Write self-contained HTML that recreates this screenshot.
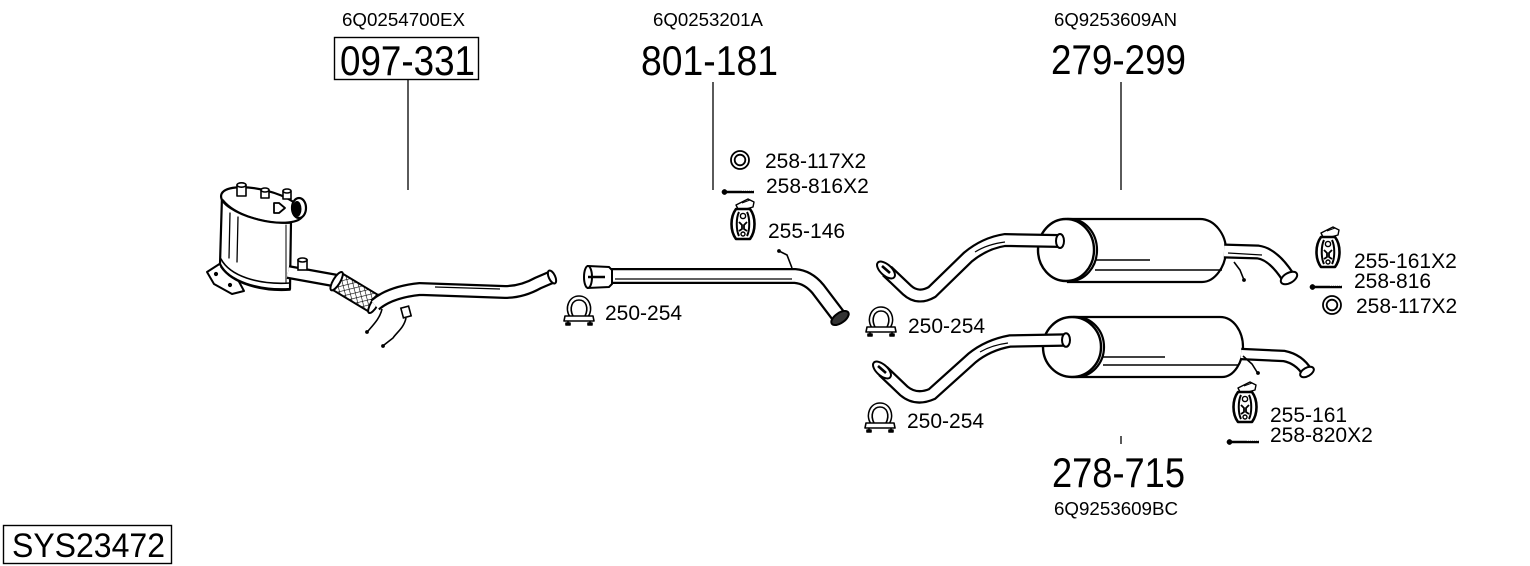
<!DOCTYPE html>
<html><head><meta charset="utf-8"><style>
html,body{margin:0;padding:0;background:#fff;}
svg{display:block;}
text{font-family:"Liberation Sans",Arial,sans-serif;fill:#000;}
</style></head><body>
<svg width="1530" height="566" viewBox="0 0 1530 566" xmlns="http://www.w3.org/2000/svg">
<defs>
  <pattern id="hatch" width="5" height="5" patternUnits="userSpaceOnUse" patternTransform="rotate(45)">
    <rect width="5" height="5" fill="#fff"/>
    <line x1="0" y1="0" x2="0" y2="5" stroke="#000" stroke-width="1.2"/>
    <line x1="0" y1="0" x2="5" y2="0" stroke="#000" stroke-width="1.2"/>
  </pattern>
  <g id="clamp" stroke="#000" fill="none" stroke-width="1.6" stroke-linejoin="round">
    <path d="M7 23 C1 14 6 2 16 2 C26 2 31 14 25 23"/>
    <path d="M10 22 C6 14 9 6 16 6 C23 6 26 14 22 22"/>
    <path d="M2 22 L30 22 L31 27 L1 27 Z" fill="#fff"/>
    <line x1="5" y1="27" x2="5" y2="31"/>
    <line x1="27" y1="27" x2="27" y2="31"/>
    <rect x="3" y="29" width="4" height="2" fill="#000"/>
    <rect x="25" y="29" width="4" height="2" fill="#000"/>
  </g>
  <g id="hanger" stroke="#000" stroke-linejoin="round" fill="none">
    <path d="M6 7 L18 1 L24 4 L23 9 L9 13 Z" fill="#fff" stroke-width="1.4"/>
    <line x1="12" y1="5" x2="20" y2="2" stroke-width="1"/>
    <path d="M6 11 C0 19 0 33 6 41 L20 41 C26 33 26 19 20 11 Z" fill="#fff" stroke-width="2.6"/>
    <path d="M9 14 C6 20 6 32 9 38" stroke-width="2"/>
    <path d="M17 14 C20 20 20 32 17 38" stroke-width="2"/>
    <path d="M9 24 L12 27 L12 31 L9 33" stroke-width="1.8"/>
    <path d="M17 24 L14 27 L14 31 L17 33" stroke-width="1.8"/>
    <circle cx="13" cy="18" r="2.6" stroke-width="1.4"/>
    <circle cx="13" cy="36" r="2" stroke-width="1.4"/>
  </g>
  <g id="bolt" stroke="#000">
    <line x1="3" y1="0" x2="32" y2="0" stroke-width="2.6"/>
    <circle cx="2.5" cy="0" r="2.6" fill="#000" stroke-width="0.5"/>
    <line x1="20" y1="-1.5" x2="32" y2="-1.5" stroke-width="0.8" stroke="#fff" stroke-dasharray="1 1"/>
  </g>
  <g id="ring" fill="none" stroke="#000" stroke-width="1.8">
    <circle cx="0" cy="0" r="9"/>
    <circle cx="0" cy="0" r="5.3"/>
  </g>
</defs>

<!-- ===== headers ===== -->
<text x="403.5" y="26" font-size="18.5" text-anchor="middle" textLength="123" lengthAdjust="spacingAndGlyphs">6Q0254700EX</text>
<text x="708" y="26" font-size="18.5" text-anchor="middle" textLength="110" lengthAdjust="spacingAndGlyphs">6Q0253201A</text>
<text x="1115.5" y="26" font-size="18.5" text-anchor="middle" textLength="123" lengthAdjust="spacingAndGlyphs">6Q9253609AN</text>
<text x="1116" y="515" font-size="18.5" text-anchor="middle" textLength="124" lengthAdjust="spacingAndGlyphs">6Q9253609BC</text>

<rect x="334.5" y="37.5" width="144" height="42" fill="none" stroke="#000" stroke-width="1.4"/>
<text x="340" y="75" font-size="42" textLength="135" lengthAdjust="spacingAndGlyphs">097-331</text>
<text x="641" y="75" font-size="42" textLength="137" lengthAdjust="spacingAndGlyphs">801-181</text>
<text x="1051" y="74" font-size="42" textLength="135" lengthAdjust="spacingAndGlyphs">279-299</text>
<text x="1052" y="487" font-size="42" textLength="133" lengthAdjust="spacingAndGlyphs">278-715</text>

<rect x="3.5" y="525.5" width="168" height="38" fill="none" stroke="#000" stroke-width="1.4"/>
<text x="12" y="557" font-size="34" textLength="153" lengthAdjust="spacingAndGlyphs">SYS23472</text>

<!-- leader lines -->
<g stroke="#000" stroke-width="1.3">
  <line x1="408" y1="80" x2="408" y2="190"/>
  <line x1="713" y1="82" x2="713" y2="190"/>
  <line x1="1121" y1="82" x2="1121" y2="190"/>
  <line x1="1121" y1="436" x2="1121" y2="444"/>
</g>

<!-- ===== DPF assembly ===== -->
<g stroke="#000" stroke-linejoin="round" stroke-linecap="round">
  <path d="M207 272 L221 263 L236 276 L244 291 L232 294 L214 284 Z" fill="#fff" stroke-width="2"/>
  <circle cx="216" cy="274" r="1.6" fill="#000"/>
  <circle cx="230" cy="285" r="1.6" fill="#000"/>
  <path d="M222 196 L220 264 C228 281 258 291 290 289 L291 221 Z" fill="#fff" stroke-width="2.2"/>
  <path d="M221 259 C230 276 258 285 290 283" fill="none" stroke-width="1.6"/>
  <path d="M221 267 C232 283 260 292 290 290" fill="none" stroke-width="1.6"/>
  <line x1="230" y1="213" x2="229" y2="258" stroke-width="1.3"/>
  <line x1="238" y1="217" x2="237" y2="262" stroke-width="1.3"/>
  <line x1="286" y1="225" x2="286" y2="283" stroke-width="1"/>
  <ellipse cx="262" cy="205" rx="42" ry="15" transform="rotate(14 262 205)" fill="#fff" stroke-width="2.2"/>
  <path d="M223 200 C235 215 265 224 291 223" fill="none" stroke-width="1.6"/>
  <rect x="237" y="185" width="9" height="11" fill="#fff" stroke-width="1.6"/>
  <ellipse cx="241.5" cy="185" rx="4.5" ry="2.2" fill="#fff" stroke-width="1.6"/>
  <rect x="261" y="190" width="8" height="8" fill="#fff" stroke-width="1.6"/>
  <ellipse cx="265" cy="190" rx="4" ry="2" fill="#fff" stroke-width="1.6"/>
  <rect x="283" y="191" width="8" height="8" fill="#fff" stroke-width="1.6"/>
  <ellipse cx="287" cy="191" rx="4" ry="2" fill="#fff" stroke-width="1.6"/>
  <path d="M274 203 L274 213 L279 213 L285 208 L279 203 Z" fill="#fff" stroke-width="1.8"/>
  <ellipse cx="299" cy="208" rx="7" ry="10" fill="#fff" stroke-width="2.2"/>
  <ellipse cx="297" cy="209" rx="4" ry="7.5" fill="#000" stroke-width="1"/>
</g>
<path d="M288 272 L338 281" stroke="#000" stroke-width="14" fill="none"/>
<path d="M288 272 L338 281" stroke="#fff" stroke-width="9.5" fill="none"/>
<rect x="298" y="260" width="9" height="10" fill="#fff" stroke="#000" stroke-width="1.6"/>
<ellipse cx="302.5" cy="260" rx="4.5" ry="2" fill="#fff" stroke="#000" stroke-width="1.6"/>
<g transform="translate(355.5 292.5) rotate(31)">
  <rect x="-22" y="-9.5" width="44" height="19" fill="url(#hatch)" stroke="#000" stroke-width="2"/>
  <ellipse cx="-22" cy="0" rx="3.5" ry="10.5" fill="#fff" stroke="#000" stroke-width="2"/>
  <ellipse cx="22" cy="0" rx="3.5" ry="10.5" fill="#fff" stroke="#000" stroke-width="2"/>
</g>
<path d="M375 305 Q390 292 420 289 L505 292 Q522 292 538 283 L552 277" stroke="#000" stroke-width="14" fill="none"/>
<path d="M375 305 Q390 292 420 289 L505 292 Q522 292 538 283 L552 277" stroke="#fff" stroke-width="9.5" fill="none"/>
<path d="M435 287 L500 289" stroke="#000" stroke-width="1.2" fill="none"/>
<ellipse cx="552" cy="277" rx="3.2" ry="7" transform="rotate(-25 552 277)" fill="#fff" stroke="#000" stroke-width="2"/>
<g stroke="#000" stroke-width="1.6" fill="none">
  <path d="M382 309 C380 318 374 324 368 331"/>
  <path d="M406 318 C404 328 396 333 393 338 L384 345"/>
</g>
<circle cx="367" cy="332" r="1.9" fill="#000"/>
<circle cx="383" cy="346" r="1.9" fill="#000"/>
<rect x="402" y="307" width="8" height="10" transform="rotate(-15 406 312)" fill="#fff" stroke="#000" stroke-width="1.6"/>

<!-- ===== middle pipe ===== -->
<path d="M600 276 L795 276 Q808 277 818 289 L840 318" stroke="#000" stroke-width="16" fill="none"/>
<path d="M600 276 L795 276 Q808 277 818 289 L840 318" stroke="#fff" stroke-width="11.5" fill="none"/>
<path d="M615 279 L792 279" stroke="#000" stroke-width="1.2" fill="none"/>
<path d="M588 266 L609 267 L612 270 L612 284 L609 287 L588 288 Z" fill="#fff" stroke="#000" stroke-width="2"/>
<ellipse cx="588" cy="277" rx="4" ry="11" fill="#fff" stroke="#000" stroke-width="2"/>
<line x1="588" y1="277" x2="605" y2="277" stroke="#000" stroke-width="2.4"/>
<ellipse cx="840" cy="318" rx="10" ry="5" transform="rotate(-35 840 318)" fill="#333" stroke="#000" stroke-width="2"/>
<path d="M779 251 L787 255 L792 268" stroke="#000" stroke-width="1.6" fill="none"/>
<circle cx="779" cy="251" r="1.9" fill="#000"/>

<!-- ===== top muffler ===== -->
<path d="M1068 219 L1200 219 C1215 219 1226 235 1226 250 C1226 266 1215 282 1202 282 L1068 282 Z" fill="#fff" stroke="#000" stroke-width="2.2"/>
<line x1="1093" y1="260" x2="1150" y2="260" stroke="#000" stroke-width="1.6"/>
<line x1="1095" y1="270" x2="1222" y2="270" stroke="#000" stroke-width="1.6"/>
<ellipse cx="1070" cy="250" rx="27" ry="31" fill="#fff" stroke="#000" stroke-width="2.2"/>
<ellipse cx="1066" cy="250" rx="28" ry="31" fill="#fff" stroke="#000" stroke-width="2.4"/>
<path d="M887 271 L907 290 Q918 300 932 292 L968 257 Q985 243 1005 240 L1060 241" stroke="#000" stroke-width="14" fill="none"/>
<path d="M887 271 L907 290 Q918 300 932 292 L968 257 Q985 243 1005 240 L1060 241" stroke="#fff" stroke-width="9.5" fill="none"/>
<path d="M975 252 Q988 244 1005 242" stroke="#000" stroke-width="1.2" fill="none"/>
<ellipse cx="1060" cy="241" rx="4" ry="7" fill="#fff" stroke="#000" stroke-width="2"/>
<ellipse cx="886" cy="270" rx="11" ry="5.5" transform="rotate(42 886 270)" fill="#fff" stroke="#000" stroke-width="2"/>
<line x1="882" y1="266" x2="890" y2="273" stroke="#000" stroke-width="2.6"/>
<path d="M1224 251 L1258 252 Q1273 254 1288 277" stroke="#000" stroke-width="15" fill="none"/>
<path d="M1224 251 L1258 252 Q1273 254 1288 277" stroke="#fff" stroke-width="10.5" fill="none"/>
<path d="M1228 253 L1262 255" stroke="#000" stroke-width="1.2" fill="none"/>
<ellipse cx="1289" cy="278" rx="9" ry="5" transform="rotate(-30 1289 278)" fill="#fff" stroke="#000" stroke-width="2"/>
<path d="M1234 262 L1240 270 L1244 280" stroke="#000" stroke-width="1.6" fill="none"/>
<circle cx="1244" cy="280" r="1.9" fill="#000"/>

<!-- ===== lower muffler ===== -->
<path d="M1074 317 L1220 317 C1234 317 1243 332 1243 347 C1243 362 1234 377 1222 377 L1074 377 Z" fill="#fff" stroke="#000" stroke-width="2.2"/>
<line x1="1103" y1="357" x2="1165" y2="357" stroke="#000" stroke-width="1.6"/>
<line x1="1103" y1="365" x2="1238" y2="365" stroke="#000" stroke-width="1.6"/>
<ellipse cx="1076" cy="347" rx="28" ry="30" fill="#fff" stroke="#000" stroke-width="2.2"/>
<ellipse cx="1072" cy="347" rx="29" ry="30" fill="#fff" stroke="#000" stroke-width="2.4"/>
<path d="M883 371 L904 391 Q916 401 932 394 L972 358 Q988 345 1010 341 L1066 340" stroke="#000" stroke-width="13.5" fill="none"/>
<path d="M883 371 L904 391 Q916 401 932 394 L972 358 Q988 345 1010 341 L1066 340" stroke="#fff" stroke-width="9" fill="none"/>
<path d="M980 352 Q992 345 1008 343" stroke="#000" stroke-width="1.2" fill="none"/>
<ellipse cx="1066" cy="340" rx="4" ry="6.8" fill="#fff" stroke="#000" stroke-width="2"/>
<ellipse cx="882" cy="370" rx="11" ry="5.5" transform="rotate(42 882 370)" fill="#fff" stroke="#000" stroke-width="2"/>
<line x1="878" y1="366" x2="886" y2="373" stroke="#000" stroke-width="2.6"/>
<path d="M1241 354 L1284 356 Q1299 359 1307 372" stroke="#000" stroke-width="12.5" fill="none"/>
<path d="M1241 354 L1284 356 Q1299 359 1307 372" stroke="#fff" stroke-width="8" fill="none"/>
<ellipse cx="1307" cy="372" rx="7.5" ry="4.2" transform="rotate(-30 1307 372)" fill="#fff" stroke="#000" stroke-width="2"/>
<path d="M1243 356 L1252 364 L1257 372" stroke="#000" stroke-width="1.6" fill="none"/>
<circle cx="1258" cy="373" r="1.9" fill="#000"/>

<!-- ===== small parts ===== -->
<use href="#ring" x="740" y="160"/>
<use href="#bolt" x="722" y="192"/>
<use href="#hanger" x="730" y="198"/>
<use href="#clamp" x="563" y="294"/>
<use href="#clamp" x="865" y="305"/>
<use href="#clamp" x="864" y="401"/>
<use href="#hanger" x="1315" y="226"/>
<use href="#bolt" x="1310" y="287"/>
<use href="#ring" x="1332" y="305"/>
<use href="#hanger" x="1232" y="381"/>
<use href="#bolt" x="1227" y="442"/>

<g font-size="21">
  <text x="765" y="168">258-117X2</text>
  <text x="766" y="193">258-816X2</text>
  <text x="768" y="238">255-146</text>
  <text x="605" y="320">250-254</text>
  <text x="908" y="333">250-254</text>
  <text x="907" y="428">250-254</text>
  <text x="1354" y="268">255-161X2</text>
  <text x="1354" y="288">258-816</text>
  <text x="1356" y="313">258-117X2</text>
  <text x="1270" y="422">255-161</text>
  <text x="1270" y="442">258-820X2</text>
</g>
</svg>
</body></html>
